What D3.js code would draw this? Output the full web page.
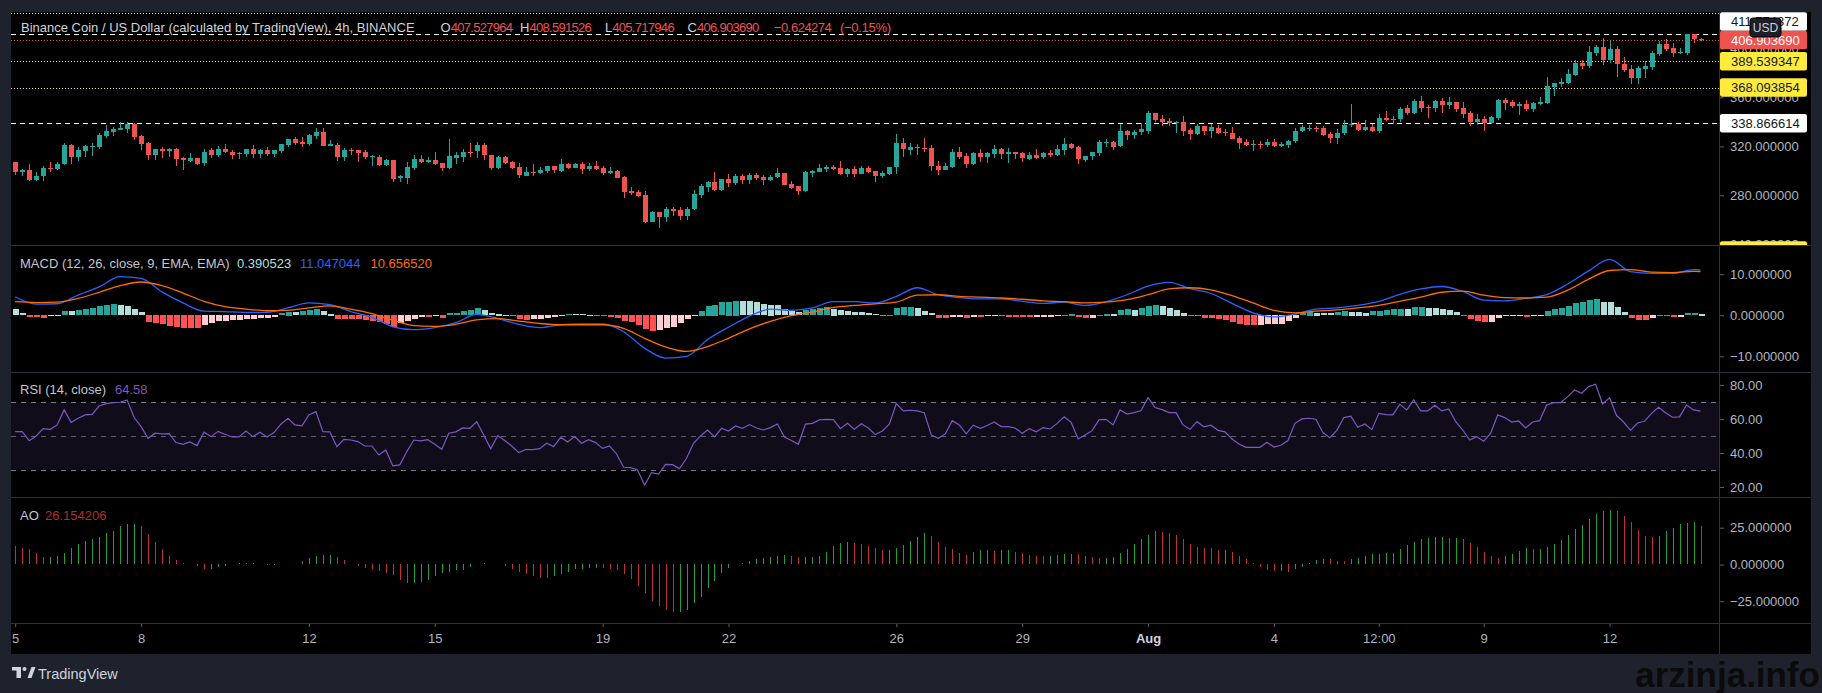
<!DOCTYPE html>
<html>
<head>
<meta charset="utf-8">
<script src="https://cdn.jsdelivr.net/npm/d3@7"></script>
<style>
html, body { margin: 0; padding: 0; background: #1e222d; overflow: hidden; }
svg { display: block; }
</style>
</head>
<body>
<svg id="chart" width="1822" height="693"></svg>
<script>
/*************************************************************************************************************
 * Data (BNB/USD, 4h candles)
 *************************************************************************************************************/
const firstCandle = "2021-07-05T00:00Z";

const opens = [
307.5,299.4,300.8,292.5,295.8,302.5,301.4,305,320.8,310.8,
315.8,319.2,319.2,328.3,331.7,333.3,334.2,338.3,328.3,322.5,
312.5,317.5,315.8,317.5,310.8,308.3,310.8,306.7,316.7,312.5,
317.5,315,313.3,313.3,317.5,313.3,316.7,313.3,315.8,320.8,
325.8,323.3,321.7,328.3,331.7,320,320.8,310.8,316.7,316.7,
315,311.7,311.7,305,309.2,294.2,294.2,302.5,310,307.5,
309.2,306.7,302.5,310.8,311.7,315.8,315.8,320.8,313.3,302.5,
311.7,307.5,303.3,295.8,299.2,298.3,300,304.2,300,305.8,
302.5,305.8,301.7,304.2,302.5,298.3,300,295,283.3,282.5,
280,258.3,266.7,262.5,269.2,268.3,263.3,268.3,280,286.7,
290.8,284.2,293.3,290,295.8,292.5,296.7,295,292.5,295,
298.3,289.2,287.5,283.3,298.3,299.2,301.7,303.3,302.5,297.5,
301.7,297.5,302.5,300,295.8,297.5,302.5,322.5,316.7,319.2,
318.3,318.3,304.2,300.8,303.3,315.8,312.5,305,314.2,310.8,
313.3,317.5,313.3,315,314.2,310,313.3,310.8,314.2,312.5,
316.7,321.7,319.2,309.2,311.7,314.2,322.5,323.3,320,332.5,
329.2,331.7,332.5,347.3,342.4,340.7,339.1,340,333.4,330.1,
336.7,332.6,335,331.7,330.9,326.8,323.6,321.1,321.9,321.1,
323.6,320.3,321.1,324.4,332.6,334.2,335,335,330.1,326.8,
330.9,337.5,338.3,333.4,335.8,332.6,343.2,342.4,342.4,351.4,
347.3,357.1,352.2,351.4,357.1,353.8,356.3,351.4,347.3,339.9,
342.4,339.1,343.2,358,356.3,353,354.6,350.5,354.6,355.5,
368.6,371,371.8,378.4,388.2,385.7,396.3,401.2,390.6,399.6,
387.3,383.3,375.9,383.3,384.9,395.5,403.7,400.4,396.3,396.3,
411.5,407.527964];

const highs = [
307.5,301.9,305.8,299.2,304.2,307.5,307.5,322.5,321.7,319.2,
320.8,322.5,330.8,337.5,335.8,340,340,339.2,329.2,323.3,
317.5,319.2,318.3,318.3,311.7,314.2,310.8,317.5,318.3,320,
321.7,316.7,315.8,317.5,320.8,317.5,319.2,316.7,321.7,325.8,
327.5,327.5,330,335,335,325,322.5,318.3,318.3,316.7,
316.7,313.3,313.3,310,309.2,296.7,307.5,313.3,313.3,311.7,
315,306.7,325.8,315.8,317.5,322.5,323.3,322.5,313.3,312.5,
312.5,308.3,306.7,303.3,305.8,303.3,304.2,304.2,310,306.7,
306.7,307.5,306.7,308.3,304.2,303.3,300.8,295.8,286.7,284.2,
283.3,267.5,266.7,270.8,270.8,270.8,270.8,284.2,289.2,291.7,
299.2,293.3,297.5,297.5,297.5,298.3,298.3,296.7,296.7,302.5,
298.3,291.7,287.5,300,300.8,305.8,305,305,308.3,302.5,
304.2,304.2,304.2,300,300,303.3,330,326.7,322.5,321.7,
326.7,320.8,308.3,306.7,317.5,319.2,314.2,315.8,317.5,315.8,
320.8,318.3,318.3,315.8,315,315.8,317.5,315.8,316.7,320.8,
326.7,322.5,320,312.5,315.8,325,325.8,324.2,338.3,333.3,
333.3,339.2,349.2,347.3,345.6,343.2,340.7,344.8,335,338.3,
336.7,338.3,337.5,334.2,335.8,328.5,326,325.2,324.4,326,
326,323.6,325.2,335,337.5,337.5,336.7,336.7,331.7,334.2,
341.6,354.6,339.9,341.6,338.3,346.5,348.9,344.8,352.2,353.8,
358.7,361.2,353.8,357.9,359.6,360.4,356.3,356.3,348.9,346.5,
344.8,344.8,358.7,359.6,357.9,356.3,357.9,356.3,360.4,376.7,
371.8,375.9,383.3,390.6,390.6,402.1,402.9,408.6,406.1,402.1,
393.1,386.5,385.7,389.8,398,405.8,407.8,404.5,400.4,411.8,
411.5,408.591526];

const lows = [
297,295.8,291.7,291.7,291.7,299.2,300.8,305,305.8,308.3,
311.7,312.5,317.5,326.7,328.3,333.3,330.8,325,316.7,309.2,
309.2,310.8,311.7,304.2,300.8,307.5,305,304.2,310.8,311.7,
314.2,310,310,311.7,310.8,310.8,312.5,311.7,314.2,319.2,
320.8,319.2,320,325.8,320,320,308.3,308.3,313.3,307.5,
310,304.2,304.2,304.2,290.8,290.8,289.2,300.8,306.7,306.7,
305,300,301.7,305.8,307.5,311.7,310.8,309.2,300.8,301.7,
305.8,301.7,294.2,295.8,295.8,297.5,298.3,298.3,299.2,301.7,
302.5,297.5,300,300.8,296.7,297.5,294.2,277.5,280,278.3,
257.5,258.3,253.3,258.3,263.3,260,260,268.3,277.5,282.5,
283.3,283.3,286.7,288.3,289.2,289.2,292.5,288.3,291.7,294.2,
288.3,285,280,282.5,295,299.2,299.2,300.8,296.7,295,
295,297.5,298.3,290.8,294.2,296.7,297.5,311.7,313.3,313.3,
315,300,296.7,300.8,302.5,310,302.5,305,307.5,306.7,
310.8,310,306.7,310,307.5,309.2,310,310,311.7,312.5,
313.3,317.5,305.8,307.5,309.2,312.5,319.2,316.7,319.2,325,
325.8,329.2,330,340,336.7,336.7,330.9,328.5,325.2,329.3,
329.3,326.8,330.1,328.5,326,317.9,320.3,316.2,317.9,319.5,
319.5,319.5,318.7,322.8,331.7,332.6,331.7,328.5,322.8,322,
329.3,335.8,332.6,332.6,331.7,331,340.7,338.3,340,345.6,
346.5,348.1,343.2,348.1,347.3,350.5,348.1,343.2,336.7,337.5,
332.6,338.3,341.6,349.7,351.4,345.6,348.9,348.1,353.8,354.6,
361.2,368.6,371,377.5,382.9,384.1,393.9,386.5,388.2,376.7,
380.8,371,371,376.2,382.4,393.9,398,393,395.5,394.7,
404.5,405.717946];

const closes = [
299.2,300.8,292.5,295.8,302.5,302.2,305.6,320.8,310.8,316.7,
320,320,329.2,332.5,334.2,335,338.3,327.5,321.7,312.5,
317.5,315.8,317.5,309.2,309.2,310.8,305.8,315.8,312.5,317.5,
315,312.5,314.2,317.5,313.3,316.7,313.3,316.7,321.7,325.8,
322.5,321.7,329.2,331.7,320,321.7,310.8,316.7,315.8,314.2,
310.8,312.5,305,309.2,293.3,295.8,303.3,310,307.5,309.2,
305.8,302.5,312.5,313.3,315.8,315,320.8,312.5,302.5,311.7,
306.7,302.5,296.7,299.2,298.3,300.8,304.2,300.8,305.8,302.5,
305.8,301.7,304.2,301.7,298.3,300,294.2,282.5,281.7,279.2,
258.3,266.7,262.5,269.2,267.5,263.3,269.2,280.8,287.5,290.8,
284.2,293.3,290,295.8,292.5,296.7,294.2,292.5,295,298.3,
288.3,285.8,283.3,299.2,300,302.5,303.3,301.7,297.5,301.7,
297.5,302.5,299.2,295.8,298.3,303.3,322.5,317.5,319.2,318.3,
317.5,303.3,300.8,304.2,315.8,311.7,305.8,314.2,310.8,314.2,
317.5,313.3,315,313.3,310,313.3,310.8,314.2,312.5,317.5,
321.7,318.3,309.2,312.5,315,323.3,323.3,319.2,332.5,329.2,
331.7,334.2,347.5,341.6,339.9,339.1,340,332.6,330.1,336.7,
332.6,335.8,330.9,330.7,326,322.8,321.1,321.9,321.1,323.6,
320.3,321.9,324.4,332.6,335.8,335,334.2,329.3,326.8,330.9,
337.5,338.3,333.4,335.8,332.6,343.2,341.6,341.6,350.5,347.3,
357.1,351.4,351.4,357.1,353.8,356.3,350.5,346.5,339.9,342.4,
339.1,344,358,355.5,353,354.6,350.5,355.5,356.3,369.4,
371.8,372.7,379.2,388.2,385.7,397.1,401.2,390.6,399.6,387.3,
382.4,375.9,384.1,385.7,396.3,403.7,399.6,396.3,397.1,411.5,
407.527964,406.90369];

// MACD (12, 26, 9) histogram, one value per candle
const macdHist = [
1.46,0.57,-0.57,-0.57,-0.65,-0.33,-0.16,0.98,0.98,1.22,
1.46,1.79,2.2,2.52,2.68,2.52,2.2,1.46,0.73,-1.63,
-2.03,-2.28,-2.6,-2.85,-3.17,-3.17,-3.25,-2.44,-2.03,-1.54,
-1.46,-1.3,-1.22,-1.06,-0.89,-0.73,-0.65,-0.41,0.57,0.89,
0.81,0.98,1.22,1.46,1.06,0.41,-0.89,-0.89,-1.06,-1.06,
-1.22,-1.38,-1.63,-2.11,-2.85,-2.03,-1.46,-1.06,-0.57,-0.57,
-0.33,-0.65,0.49,0.57,0.98,1.22,1.71,1.22,0.57,0.41,
0.16,-0.33,-1.06,-1.22,-1.06,-0.98,-0.73,-0.49,-0.24,0.24,
0.24,0.24,0.16,-0.16,-0.24,-0.57,-0.81,-1.38,-1.79,-2.44,
-3.41,-3.9,-3.66,-3.25,-2.85,-2.0,-0.9,-0.3,1.14,2.36,
2.6,3.25,3.33,3.58,3.5,3.4,3.25,2.76,2.6,2.44,
1.54,0.98,0.73,1.3,1.54,1.79,1.95,1.63,1.22,0.98,
0.81,0.78,0.57,0.24,-0.16,0.16,1.71,2.03,2.11,1.87,
1.06,0.49,-0.65,-0.73,-0.41,-0.38,-0.73,-0.49,-0.57,-0.24,
-0.16,-0.24,-0.41,-0.49,-0.57,-0.6,-0.57,-0.49,-0.45,-0.33,
0.16,0.41,-0.57,-0.73,-0.65,0.08,0.41,0.38,1.22,1.46,
1.38,1.71,2.36,2.4,2.2,1.87,1.38,0.65,-0.33,-0.35,
-0.73,-0.75,-1.06,-1.3,-1.79,-2.28,-2.44,-2.46,-2.44,-2.28,
-2.26,-2.11,-1.54,-0.81,0.57,0.89,0.65,0.49,0.47,0.81,
1.14,0.89,0.87,0.65,1.06,1.14,1.3,1.54,1.63,1.6,
1.94,2.1,1.85,1.77,1.53,1.29,0.81,-0.16,-1.05,-1.53,
-1.77,-1.7,-0.81,-0.24,-0.16,-0.14,-0.4,-0.16,-0.12,1.13,
1.53,1.77,2.34,2.98,3.23,3.71,3.95,3.23,3.2,2.02,
0.81,-0.65,-1.13,-1.29,-0.81,0.08,0.1,-0.4,-0.38,0.56,
0.58,0.390523];

// MACD and signal lines, read every third candle plus the last one
const macdLine = [
4.5,2.7,2.8,4.9,6.9,9.4,9.0,5.7,3.0,1.0,
0.9,0.7,0.7,1.8,3.0,2.6,0.9,-0.5,-2.8,-3.5,
-3.0,-1.8,0.2,-0.8,-2.2,-3.0,-2.3,-2.1,-2.1,-4.0,
-8.0,-10.4,-10.0,-5.9,-2.9,-0.2,1.5,1.2,1.8,3.3,
3.3,3.0,4.6,6.7,5.0,4.3,4.0,4.0,3.4,2.9,
3.2,2.4,3.3,5.0,7.1,8.0,6.5,5.3,2.9,0.6,
-0.4,0.3,1.5,1.8,2.4,3.4,5.1,6.4,7.0,5.8,
3.7,3.5,4.1,5.0,7.6,10.8,13.6,10.6,10.2,10.2,
11.1,11.047044];
const signalLine = [
3.3,3.1,3.2,4.1,5.6,7.2,8.1,7.2,5.4,3.4,
2.1,1.5,1.1,1.2,1.8,2.3,1.5,0.4,-1.2,-2.5,
-2.7,-2.2,-1.1,-0.8,-1.4,-2.0,-2.3,-2.3,-2.3,-3.2,
-5.6,-7.7,-8.8,-7.6,-5.6,-3.3,-1.5,-0.1,0.8,1.9,
2.4,2.8,3.2,4.9,5.0,4.6,4.4,4.2,3.9,3.5,
3.3,3.0,3.2,3.8,5.0,6.4,6.7,6.2,4.8,3.0,
1.2,0.6,1.0,1.3,1.8,2.4,3.4,4.4,5.6,5.9,
4.9,4.3,4.2,4.4,6.1,8.8,10.9,11.1,10.5,10.4,
10.7,10.65652];

// RSI (14, close), one value per candle
const rsiValues = [
52.5,52.5,47.2,50,54.3,53.9,56.5,65.3,58,60.4,
62.4,62.7,67.6,69,69.6,69.8,71.2,61,55.5,48.6,
51.6,51.2,51.4,46.1,45.1,46.5,44.3,52.2,49.6,52.7,
51,49.4,49.4,52.9,49.6,52.2,49.4,52,56.9,60.4,
56.5,55.9,62.4,64.3,52.5,52.4,43.7,48,47.6,46.7,
44.1,44.1,38.8,41.8,32.4,33,40.8,47.6,47.1,47.8,
45.1,42.2,51.6,52.4,54.7,54.5,58.4,50.6,42.4,50.2,
47.3,44.1,40.2,42,42,42.5,45.7,43.7,49.2,46.5,
49.6,45.7,47.8,46.1,42.7,44.1,39.4,31.6,31.4,30,
21,28.4,27.6,33.3,33.1,30.8,36.9,45.7,50,53.5,
49.4,54.5,52.9,55.9,54.5,56.7,54.7,53.5,54.9,57,
49.4,47.3,45.1,57,57.4,59.4,59.8,59.6,54.3,57.4,
53.9,57.2,54.7,50.8,52.9,56.9,69,64.7,65.1,64.7,
63.7,50.6,48.6,51.2,59,56.5,51.2,56.3,54.5,56.1,
58.2,55.5,55.5,54.7,51.4,54.3,52.4,54.9,54.1,57.4,
61.2,58,48.2,50.6,53.1,59.6,59.8,56.5,65.3,62.9,
63.7,64.9,72.5,66.7,65.5,63.7,63.7,56.5,53.9,58.4,
55.3,56.3,53.3,52.4,48.2,45.3,43.3,43.3,43.3,46.3,
43.5,44.5,47.3,57.4,60,60.4,59.8,52,49,53.3,
60.8,61.6,55.1,57,53.7,63.3,62.5,62.4,68.6,65.3,
71.2,64.7,64.7,68,64.7,65.9,58.4,53.5,47.6,49.6,
46.9,51.6,62.4,60.8,58.2,58.8,54.7,58.2,59,68.2,
69.6,69.6,73.1,77.1,75.1,79,80.4,68.8,72.5,62,
58.2,53.3,57.6,58.6,63.3,66.9,63.7,61,61.2,68.2,
65.3,64.58];

// Awesome Oscillator, one value per candle
const aoValues = [
12.7,11.1,10.4,8,5.3,5.3,6,8,11.1,14.2,
16,17.6,18.7,21.1,23.1,26.4,27.8,27.8,26,20.7,
15.3,10.2,6,3.1,0.9,0,-0.9,-2.9,-2.9,-2,
-0.9,0.4,0.9,0.9,0.9,0,-0.4,-0.4,0,0,
0.4,2.2,4.2,6,6.7,6.7,4.9,3.1,0.4,-1.3,
-2.7,-3.3,-4.7,-5.8,-7.3,-10.7,-12.4,-12.4,-12.2,-10.7,
-7.6,-5.8,-5.1,-4,-4,-1.8,0.4,1.3,0.4,0,
-0.9,-3.1,-5.3,-6.7,-8,-9.1,-9.3,-8,-6.2,-5.3,
-3.3,-2.9,-2.2,-2.2,-2.7,-3.1,-4,-6.2,-10.2,-14.7,
-19.1,-24.7,-28.4,-31.1,-32.4,-32.4,-30.7,-26.2,-21.8,-16.2,
-11.1,-5.8,-2.2,0,1.3,2.2,3.6,4.4,4.9,5.8,
6.7,5.8,4.9,4.9,5.3,6,8.4,12.7,14.7,15.3,
14.7,14.2,12.4,11.1,9.8,9.8,11.1,13,15.8,18.7,
21.2,19.2,15.5,12.1,10.3,8,6.6,8.2,9.6,9.6,
8.9,9.6,9.6,8.7,7.8,6.4,5.7,5.5,5.7,6.4,
7.1,7.3,6.8,5.9,4.8,4.3,4.6,5,7.5,10.5,
13.9,17.6,20.3,22.8,21.9,21.7,19.9,17.1,14.2,11.9,
11.4,11,9.6,9.6,8.4,5.5,3.9,0.7,-1.8,-3.7,
-4.1,-4.1,-4.8,-3,-1.4,1.1,3,3.9,3.7,2.5,
2.3,3.4,4.1,5.5,6.8,7.3,7.8,8,10.3,13,
15.5,17.6,18.3,18.5,18.5,18.3,18.3,17.1,14.6,12.1,
8.4,5.7,4.1,5.7,7.3,8.9,11.2,10.5,10.5,11.9,
13.7,16.7,20.1,24.4,26.7,30.8,34.2,36.5,37.2,36.3,
33.3,28.8,23.5,19.2,18.7,19.4,22.8,25.1,27.4,27.9,
28.8,26.154206];

// horizontal levels drawn on the price pane
const whiteLevels = [411.774372, 338.866614];
const yellowLevels = [389.539347, 368.093854];
const yellowTopLevel = 429.3;
const yellowLowLevel = 235;

// axis ticks
const priceTicks = [240, 280, 320, 360, 400];
const macdTicks = [-10, 0, 10];
const rsiTicks = [20, 40, 60, 80];
const rsiBands = [70, 50, 30];
const aoTicks = [-25, 0, 25];
const timeTickDates = ["2021-07-05T00:00Z","2021-07-08T00:00Z","2021-07-12T00:00Z","2021-07-15T00:00Z",
    "2021-07-19T00:00Z","2021-07-22T00:00Z","2021-07-26T00:00Z","2021-07-29T00:00Z","2021-08-01T00:00Z",
    "2021-08-04T00:00Z","2021-08-06T12:00Z","2021-08-09T00:00Z","2021-08-12T00:00Z"];
const timeTickLabels = ["5","8","12","15","19","22","26","29","Aug","4","12:00","9","12"];

/*************************************************************************************************************
 * Layout / scales
 *************************************************************************************************************/
const W = 1822, H = 693;
const plotLeft = 11, plotRight = 1719, frameRight = 1811, frameTop = 12, frameBottom = 654;
const pricePane = [12, 245], macdPane = [245, 372], rsiPane = [372, 497], aoPane = [497, 623];
const timeAxisY = 623;

const FONT = '"Liberation Sans", Arial, "DejaVu Sans", sans-serif';
const GREEN = "#26a69a", RED = "#ef5350", YELLOW = "#ffeb3b";
const TEXT = "#d1d4dc", AXIS_TEXT = "#b2b5be", SEP = "#2e323e";

const fmt6 = d3.format(".6f"), fmt2 = d3.format(".2f");

let t0 = Date.parse(firstCandle);
let dates = closes.map((c, i) => new Date(t0 + i * 4 * 3600 * 1000));
let last = closes.length - 1;

let x = d3.scaleUtc().domain([dates[0], dates[last]]).range([15.2, 1700.5]);
let px = i => Math.round(x(dates[i]));

let yPrice = d3.scaleLinear().domain([239.4, 429.8]).range([pricePane[1], pricePane[0]]);
let yMacd = d3.scaleLinear().domain([-13.8, 17.1]).range([macdPane[1], macdPane[0]]);
let yRsi = d3.scaleLinear().domain([14.1, 87.6]).range([rsiPane[1], rsiPane[0]]);
let yAo = d3.scaleLinear().domain([-39.8, 45.9]).range([aoPane[1], aoPane[0]]);

let svg = d3.select("#chart").attr("font-family", FONT);

// backgrounds
svg.append("rect").attr("width", W).attr("height", H).attr("fill", "#1e222d");
svg.append("rect").attr("x", plotLeft).attr("y", frameTop)
    .attr("width", frameRight - plotLeft).attr("height", frameBottom - frameTop).attr("fill", "#000");

let defs = svg.append("defs");
function clip(id, x0, y0, x1, y1) {
    defs.append("clipPath").attr("id", id).append("rect")
        .attr("x", x0).attr("y", y0).attr("width", x1 - x0).attr("height", y1 - y0);
    return "url(#" + id + ")";
}
let priceClip = clip("priceClip", plotLeft, pricePane[0], plotRight, pricePane[1]);
let plotClip = clip("plotClip", plotLeft, frameTop, plotRight, timeAxisY);
let priceAxisClip = clip("priceAxisClip", plotRight, pricePane[0], frameRight, pricePane[1]);
let timeClip = clip("timeClip", plotLeft, timeAxisY, plotRight, frameBottom);

/*************************************************************************************************************
 * Price pane
 *************************************************************************************************************/
let price = svg.append("g").attr("clip-path", priceClip);

function hLine(g, v, color, dash) {
    let y = Math.round(yPrice(v)) + 0.5;
    g.append("line").attr("x1", plotLeft).attr("x2", plotRight).attr("y1", y).attr("y2", y)
        .attr("stroke", color).attr("stroke-width", 1).attr("stroke-dasharray", dash);
}
hLine(price, yellowTopLevel, YELLOW, "1,2");
yellowLevels.forEach(v => hLine(price, v, YELLOW, "1,2"));
whiteLevels.forEach(v => hLine(price, v, "#ffffff", "5,4"));
hLine(price, closes[last], RED, "1,2");

let candles = price.selectAll(".candle")
    .data(d3.range(closes.length))
    .enter().append("g")
    .attr("class", "candle")
    .attr("fill", i => closes[i] >= opens[i] ? GREEN : RED)
    .attr("stroke", i => closes[i] >= opens[i] ? GREEN : RED);

candles.append("line")
    .attr("x1", i => px(i) + 0.5).attr("x2", i => px(i) + 0.5)
    .attr("y1", i => Math.round(yPrice(highs[i])))
    .attr("y2", i => Math.round(yPrice(lows[i])))
    .attr("stroke-width", 1);

candles.append("rect")
    .attr("stroke", "none")
    .attr("x", i => px(i) - 2)
    .attr("width", 5)
    .attr("y", i => Math.round(yPrice(Math.max(opens[i], closes[i]))))
    .attr("height", i => Math.max(1, Math.round(Math.abs(yPrice(opens[i]) - yPrice(closes[i])))));

// legend
let chg = closes[last] - closes[last - 1];
let pct = chg / closes[last - 1] * 100;
let legend = svg.append("g").attr("font-size", 13);
legend.append("text").attr("x", 21).attr("y", 32).attr("fill", TEXT)
    .text("Binance Coin / US Dollar (calculated by TradingView), 4h, BINANCE");
[["O", opens[last], 440.6], ["H", highs[last], 520], ["L", lows[last], 605], ["C", closes[last], 687.5]]
    .forEach(function (p) {
        let t = legend.append("text").attr("x", p[2]).attr("y", 32);
        t.append("tspan").attr("fill", TEXT).text(p[0]);
        t.append("tspan").attr("fill", RED).attr("letter-spacing", -0.7).text(fmt6(p[1]));
    });
legend.append("text").attr("x", 774).attr("y", 32).attr("fill", RED).attr("letter-spacing", -0.5)
    .text(fmt6(chg));
legend.append("text").attr("x", 840).attr("y", 32).attr("fill", RED).attr("letter-spacing", -0.3)
    .text("(" + fmt2(pct) + "%)");

/*************************************************************************************************************
 * MACD pane
 *************************************************************************************************************/
let macd = svg.append("g").attr("clip-path", plotClip);

function histColor(i) {
    let v = macdHist[i], p = i > 0 ? macdHist[i - 1] : v;
    if (v >= 0) return p < v ? "#26a69a" : "#b2dfdb";
    return p < v ? "#ffcdd2" : "#ff5252";
}
macd.selectAll(".bar")
    .data(d3.range(macdHist.length))
    .enter().append("rect")
    .attr("class", "bar")
    .attr("x", i => px(i) - 2)
    .attr("width", 6)
    .attr("y", i => Math.round(Math.min(yMacd(0), yMacd(macdHist[i]))))
    .attr("height", i => Math.max(1, Math.round(Math.abs(yMacd(macdHist[i]) - yMacd(0)))))
    .attr("fill", histColor);

let lineIdx = d3.range(0, last, 3).concat([last]);
let macdPath = d3.line().curve(d3.curveMonotoneX)
    .x(d => x(dates[d[0]]))
    .y(d => yMacd(d[1]));
macd.append("path")
    .attr("d", macdPath(lineIdx.map((k, j) => [k, macdLine[j]])))
    .attr("fill", "none").attr("stroke", "#2962ff").attr("stroke-width", 1.3);
macd.append("path")
    .attr("d", macdPath(lineIdx.map((k, j) => [k, signalLine[j]])))
    .attr("fill", "none").attr("stroke", "#ff6d00").attr("stroke-width", 1.3);

let macdLegend = svg.append("text").attr("x", 20).attr("y", 267.5).attr("font-size", 13);
macdLegend.append("tspan").attr("fill", "#c3c6ce").text("MACD (12, 26, close, 9, EMA, EMA)");
macdLegend.append("tspan").attr("x", 237).attr("fill", "#b2dfdb").text(fmt6(macdHist[last]));
macdLegend.append("tspan").attr("x", 300).attr("fill", "#2962ff").text(fmt6(macdLine[macdLine.length - 1]));
macdLegend.append("tspan").attr("x", 370.5).attr("fill", "#ff6d00").text(fmt6(signalLine[signalLine.length - 1]));

/*************************************************************************************************************
 * RSI pane
 *************************************************************************************************************/
let rsi = svg.append("g").attr("clip-path", plotClip);
rsi.append("rect")
    .attr("x", plotLeft).attr("width", plotRight - plotLeft)
    .attr("y", yRsi(rsiBands[0])).attr("height", yRsi(rsiBands[2]) - yRsi(rsiBands[0]))
    .attr("fill", "#100c19");
rsiBands.forEach(function (v) {
    let y = Math.round(yRsi(v)) + 0.5;
    rsi.append("line").attr("x1", plotLeft).attr("x2", plotRight).attr("y1", y).attr("y2", y)
        .attr("stroke", "#787b86").attr("stroke-opacity", v === 50 ? 0.75 : 1)
        .attr("stroke-dasharray", "5,5");
});
rsi.append("path")
    .attr("d", d3.line().x((v, i) => x(dates[i])).y(v => yRsi(v))(rsiValues))
    .attr("fill", "none").attr("stroke", "#7e57c2").attr("stroke-width", 1.2);

let rsiLegend = svg.append("text").attr("x", 20).attr("y", 393.5).attr("font-size", 13);
rsiLegend.append("tspan").attr("fill", "#c3c6ce").text("RSI (14, close)");
rsiLegend.append("tspan").attr("x", 115).attr("fill", "#7e57c2").text(fmt2(rsiValues[last]));

/*************************************************************************************************************
 * AO pane
 *************************************************************************************************************/
let ao = svg.append("g").attr("clip-path", plotClip);
ao.selectAll(".ao")
    .data(d3.range(aoValues.length))
    .enter().append("line")
    .attr("class", "ao")
    .attr("x1", i => px(i) + 0.5).attr("x2", i => px(i) + 0.5)
    .attr("y1", Math.round(yAo(0)))
    .attr("y2", i => Math.round(yAo(aoValues[i])))
    .attr("stroke", i => (i > 0 && aoValues[i] >= aoValues[i - 1]) ? "#22a12c" : "#c0332e")
    .attr("stroke-width", 1);

let aoLegend = svg.append("text").attr("x", 20).attr("y", 519.5).attr("font-size", 13);
aoLegend.append("tspan").attr("fill", "#c3c6ce").text("AO");
aoLegend.append("tspan").attr("x", 45).attr("fill", "#b0302f").text(fmt6(aoValues[last]));

/*************************************************************************************************************
 * Axes
 *************************************************************************************************************/
function styleAxis(g) {
    g.attr("font-family", FONT).attr("font-size", 13);
    g.select(".domain").remove();
    g.selectAll(".tick line").attr("stroke", "#5d606b");
    g.selectAll(".tick text").attr("fill", AXIS_TEXT);
}
// clip wrappers are untransformed so the clip rects stay in page coordinates
svg.append("g").attr("clip-path", priceAxisClip)
    .append("g").attr("transform", "translate(" + plotRight + ",0)")
    .call(d3.axisRight(yPrice).tickValues(priceTicks).tickFormat(fmt6).tickSize(5).tickPadding(6))
    .call(styleAxis);
svg.append("g").attr("transform", "translate(" + plotRight + ",0)")
    .call(d3.axisRight(yMacd).tickValues(macdTicks).tickFormat(fmt6).tickSize(5).tickPadding(6))
    .call(styleAxis);
svg.append("g").attr("transform", "translate(" + plotRight + ",0)")
    .call(d3.axisRight(yRsi).tickValues(rsiTicks).tickFormat(fmt2).tickSize(5).tickPadding(6))
    .call(styleAxis);
svg.append("g").attr("transform", "translate(" + plotRight + ",0)")
    .call(d3.axisRight(yAo).tickValues(aoTicks).tickFormat(fmt6).tickSize(5).tickPadding(6))
    .call(styleAxis);

let timeAxis = svg.append("g").attr("clip-path", timeClip)
    .append("g").attr("transform", "translate(0," + timeAxisY + ")")
    .call(d3.axisBottom(x).tickValues(timeTickDates.map(d => new Date(Date.parse(d))))
        .tickFormat((d, i) => timeTickLabels[i]).tickSize(4).tickPadding(7))
    .call(styleAxis);
timeAxis.selectAll(".tick text")
    .attr("font-weight", (d, i) => timeTickLabels[i] === "Aug" ? "bold" : null)
    .attr("fill", (d, i) => timeTickLabels[i] === "Aug" ? TEXT : AXIS_TEXT);

// pane separators and the price scale border
[macdPane[0], rsiPane[0], aoPane[0], timeAxisY].forEach(function (y) {
    svg.append("line").attr("x1", plotLeft).attr("x2", frameRight).attr("y1", y + 0.5).attr("y2", y + 0.5)
        .attr("stroke", SEP);
});
svg.append("line").attr("x1", plotRight + 0.5).attr("x2", plotRight + 0.5)
    .attr("y1", frameTop).attr("y2", frameBottom).attr("stroke", SEP);

/*************************************************************************************************************
 * Price scale labels
 *************************************************************************************************************/
let labels = [
    {v: closes[last], bg: RED, fg: "#ffffff"},
    {v: whiteLevels[0], bg: "#ffffff", fg: "#131722"},
    {v: yellowLevels[0], bg: YELLOW, fg: "#131722"},
    {v: yellowLevels[1], bg: YELLOW, fg: "#131722"},
    {v: whiteLevels[1], bg: "#ffffff", fg: "#131722"},
    {v: yellowLowLevel, bg: YELLOW, fg: "#131722"}
];
let boxH = 18.5, placed = [];
labels.forEach(function (l) {
    l.y = yPrice(l.v);
    placed.forEach(function (p) {
        if (Math.abs(l.y - p.y) < boxH) l.y = l.v > p.v ? p.y - boxH : p.y + boxH;
    });
    placed.push(l);
});
let labelG = svg.append("g").attr("clip-path", priceAxisClip).attr("font-size", 13);
placed.slice().reverse().forEach(function (l) {
    labelG.append("rect").attr("x", plotRight + 1).attr("y", l.y - boxH / 2)
        .attr("width", 87).attr("height", boxH).attr("rx", 2).attr("fill", l.bg);
    labelG.append("text").attr("x", 1731).attr("y", l.y).attr("dy", "0.36em")
        .attr("fill", l.fg).text(fmt6(l.v));
});

// currency badge
svg.append("rect").attr("x", 1750).attr("y", 18).attr("width", 31).attr("height", 19).attr("rx", 3)
    .attr("fill", "#1c1f27").attr("stroke", "#000").attr("stroke-width", 1);
svg.append("text").attr("x", 1765.5).attr("y", 27.5).attr("dy", "0.36em").attr("text-anchor", "middle")
    .attr("font-size", 12).attr("fill", TEXT).text("USD");

/*************************************************************************************************************
 * Footer: TradingView mark and watermark
 *************************************************************************************************************/
let logo = svg.append("g").attr("fill", TEXT);
logo.append("rect").attr("x", 12).attr("y", 667).attr("width", 9).attr("height", 3.5);
logo.append("rect").attr("x", 16.5).attr("y", 667).attr("width", 4.5).attr("height", 11);
logo.append("circle").attr("cx", 24.5).attr("cy", 669).attr("r", 2);
logo.append("path").attr("d", "M27.5,678 L31.5,667 L35.5,667 L31.5,678 Z");
svg.append("text").attr("x", 38).attr("y", 678.5).attr("font-size", 14.5).attr("fill", TEXT)
    .text("TradingView");

svg.append("text").attr("x", 1820).attr("y", 687).attr("text-anchor", "end")
    .attr("font-size", 35).attr("font-weight", "bold").attr("fill", "#0b0b0b")
    .text("arzinja.info");
</script>
</body>
</html>
